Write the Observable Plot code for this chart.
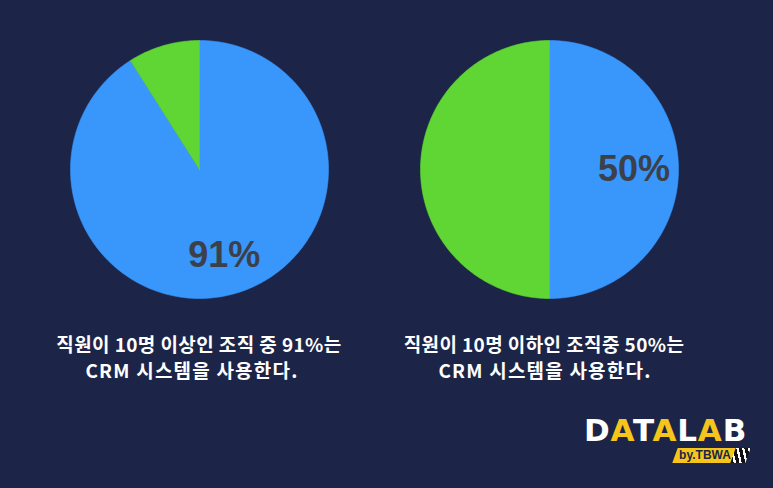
<!DOCTYPE html>
<html><head><meta charset="utf-8">
<script src="https://cdn.jsdelivr.net/npm/d3@7"></script>
<script src="https://cdn.jsdelivr.net/npm/@observablehq/plot@0.6"></script>
<style>
html,body{margin:0;padding:0;background:#1c2548;}
#root{position:relative;width:773px;height:488px;overflow:hidden;background:#1c2548;}
.pie{position:absolute;}
.cap{position:absolute;width:400px;text-align:center;color:#fff;font-family:"Noto Sans CJK KR","Noto Sans",sans-serif;font-weight:700;font-size:19px;letter-spacing:0.4px;line-height:26px;white-space:nowrap;}
.cap2{letter-spacing:1.2px;}
#logo{position:absolute;left:584px;top:410px;font-family:"DejaVu Sans",sans-serif;font-weight:700;font-size:31px;letter-spacing:0.8px;color:#fff;line-height:40px;}
#logo .y{color:#f5c51b;}
#by{position:absolute;left:675px;top:448px;width:60px;height:15px;background:#f5c51b;transform:skewX(-20deg);}
#bytxt{position:absolute;left:675px;top:447px;width:60px;text-align:center;font-family:"Liberation Sans",Arial,sans-serif;font-weight:700;font-size:12px;line-height:16px;color:#1c2548;}
#stripes{position:absolute;left:733px;top:448px;width:15px;height:15px;background:repeating-linear-gradient(60deg,#111 0 3px,#fff 3px 5px);transform:skewX(-20deg);}
</style></head>
<body><div id="root">
<div class="pie" id="p1" style="left:70px;top:40px"></div>
<div class="pie" id="p2" style="left:420px;top:40px"></div>
<div class="cap" style="left:-1px;top:331px">직원이 10명 이상인 조직 중 91%는</div>
<div class="cap cap2" style="left:-8px;top:357px">CRM 시스템을 사용한다.</div>
<div class="cap" style="left:344px;top:331px">직원이 10명 이하인 조직중 50%는</div>
<div class="cap cap2" style="left:345px;top:357px">CRM 시스템을 사용한다.</div>
<div id="logo">D<span class="y">A</span>T<span class="y">A</span>L<span class="y">A</span>B</div>
<div id="by"></div><div id="bytxt">by.TBWA</div>
<div id="stripes"></div>
</div>
<script>
const slices = ["CRM 사용", "CRM 미사용"];
const sliceColors = ["#3996fb", "#5fd634"];
const leftValues = [91, 9];
const rightValues = [50, 50];
const leftLabel = "91%";
const rightLabel = "50%";

function pie(values, label, r) {
  const total = d3.sum(values);
  let acc = 0;
  const arcs = values.map((v, i) => {
    const a0 = acc / total * 2 * Math.PI; acc += v;
    const a1 = acc / total * 2 * Math.PI;
    const n = Math.ceil((a1 - a0) / (2 * Math.PI) * 360) + 1;
    const pts = [{x: 0, y: 0}];
    for (let k = 0; k <= n; k++) {
      const a = a0 + (a1 - a0) * k / n;
      pts.push({x: Math.sin(a), y: Math.cos(a)});
    }
    pts.push({x: 0, y: 0});
    return {slice: slices[i], a0, a1, pts, color: sliceColors[i]};
  });
  const mid = (arcs[0].a0 + arcs[0].a1) / 2;
  const lab = [{x: r * Math.sin(mid), y: r * Math.cos(mid), text: label}];
  return Plot.plot({
    width: 258, height: 258, margin: 0,
    x: {domain: [-1, 1], axis: null},
    y: {domain: [-1, 1], axis: null},
    style: {background: "transparent", overflow: "visible"},
    marks: [
      ...arcs.map(a => Plot.line(a.pts, {x: "x", y: "y", fill: a.color, stroke: a.color, strokeWidth: 0.6, curve: "linear"})),
      Plot.text(lab, {x: "x", y: "y", text: "text", fontSize: 36, fontWeight: "bold", fill: "#3c4049", fontFamily: "Liberation Sans, Arial, sans-serif"})
    ]
  });
}
document.getElementById("p1").appendChild(pie(leftValues, leftLabel, 0.69));
document.getElementById("p2").appendChild(pie(rightValues, rightLabel, 0.655));
</script>
</body></html>
